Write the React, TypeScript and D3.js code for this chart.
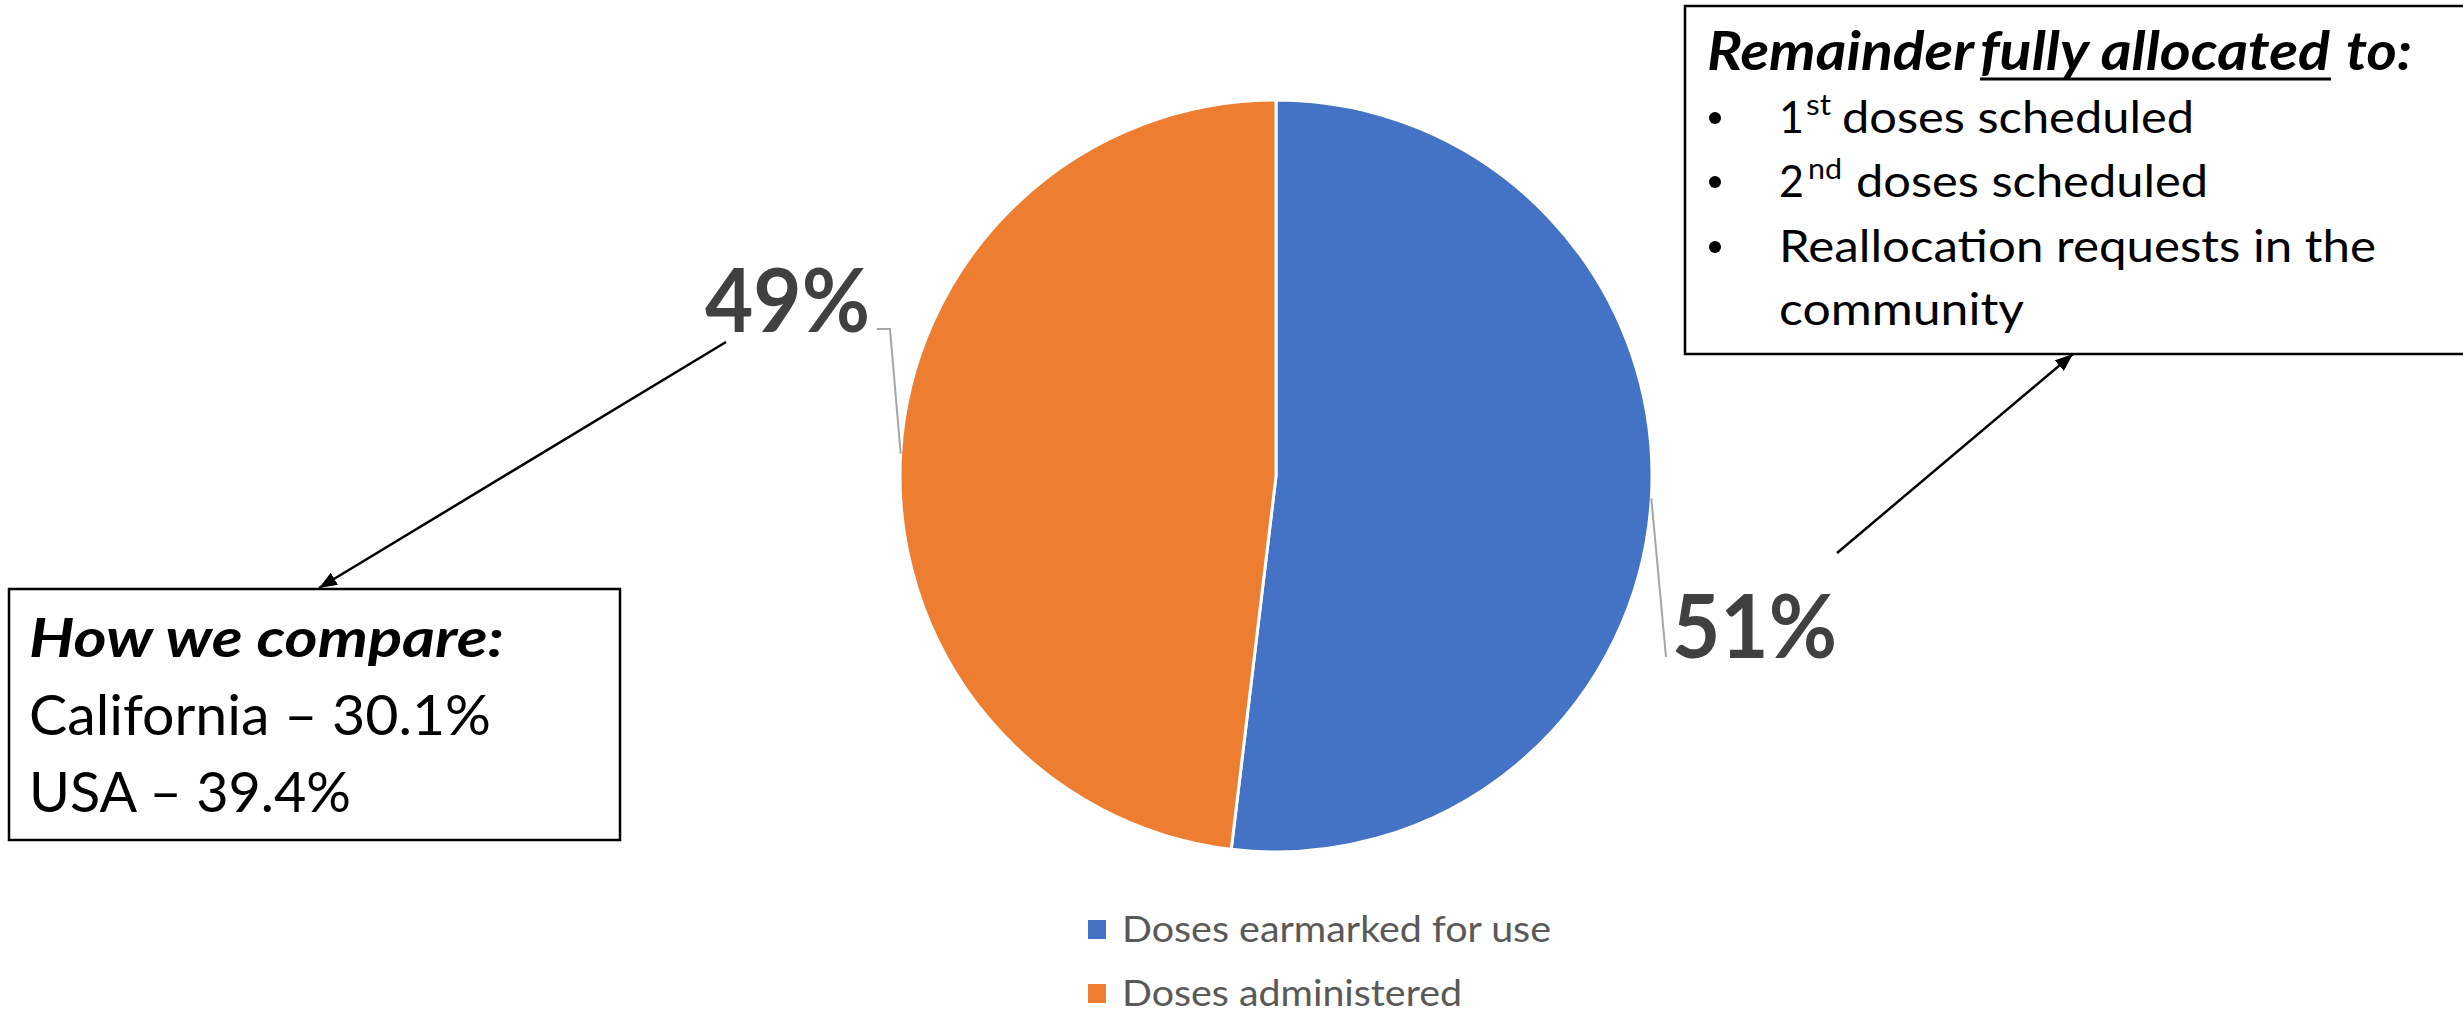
import React, { useEffect } from "react";
import * as d3 from "d3";

// ---------- data ----------
const categories = ["Doses earmarked for use", "Doses administered"];
const values = [51.9, 48.1];
const dataLabels = ["51%", "49%"];
const colors = ["#4472C4", "#ED7D31"];

const compareTitle = "How we compare:";
const compareLines = ["California – 30.1%", "USA – 39.4%"];

const remainderTitle = ["Remainder", "fully allocated", "to:"];
const remainderItems = [
  { main: "1", sup: "st", rest: "doses scheduled" },
  { main: "2", sup: "nd", rest: "doses scheduled" },
];
const remainderLast = ["Reallocation requests in the", "community"];

// ---------- layout ----------
const W = 2463;
const H = 1011;
const CX = 1276;
const CY = 476;
const R = 376;
const FONT = "Lato, 'Noto Sans', sans-serif";

const labelPos = [
  { x: 1672, y: 658, w: 165, lx: 1666, ly: 657, corner: null as null | number[] },
  { x: 705, y: 332, w: 165, lx: 877, ly: 329, corner: [890, 329] },
];

export default function App() {
  useEffect(() => {
    document.body.style.margin = "0";
  }, []);

  const pie = d3
    .pie<number>()
    .sort(null)
    .value((d) => d)
    .startAngle(0)
    .endAngle(2 * Math.PI);
  const arcs = pie(values);
  const arc = d3.arc<d3.PieArcDatum<number>>().innerRadius(0).outerRadius(R);

  const edgePoint = (a: d3.PieArcDatum<number>) => {
    const m = (a.startAngle + a.endAngle) / 2;
    return [CX + R * Math.sin(m), CY - R * Math.cos(m)];
  };

  const legendY = d3.scaleBand<string>().domain(categories).range([910, 1038]);

  return (
    <div style={{ position: "absolute", left: 0, top: 0 }}>
      <svg width={W} height={H} style={{ display: "block", background: "#fff" }} fontFamily={FONT}>
        <defs>
          <marker
            id="ah"
            markerUnits="userSpaceOnUse"
            markerWidth={20}
            markerHeight={14}
            refX={18}
            refY={7}
            orient="auto"
          >
            <path d="M0,0 L18,7 L0,14 Z" fill="#000" />
          </marker>
        </defs>
        <rect x={0} y={0} width={W} height={H} fill="#fff" />

        {/* pie */}
        <g transform={`translate(${CX},${CY})`}>
          {arcs.map((a, i) => (
            <path key={i} d={arc(a) || ""} fill={colors[i]} stroke="#fff" strokeWidth={3} strokeLinejoin="round" />
          ))}
        </g>

        {/* leader lines and data labels */}
        {arcs.map((a, i) => {
          const [ex, ey] = edgePoint(a);
          const lp = labelPos[i];
          const pts = lp.corner
            ? `${ex},${ey} ${lp.corner[0]},${lp.corner[1]} ${lp.lx},${lp.ly}`
            : `${ex},${ey} ${lp.lx},${lp.ly}`;
          return (
            <g key={i}>
              <polyline points={pts} fill="none" stroke="#A6A6A6" strokeWidth={2} />
              <text
                x={lp.x}
                y={lp.y}
                fontSize={88}
                fontWeight="bold"
                fill="#404040"
                textLength={lp.w}
                lengthAdjust="spacingAndGlyphs"
              >
                {dataLabels[i]}
              </text>
            </g>
          );
        })}

        {/* left annotation box */}
        <rect x={9} y={589} width={611} height={251} fill="#fff" stroke="#000" strokeWidth={2.5} />
        <text
          x={29}
          y={657}
          fontSize={54}
          fontWeight="bold"
          fontStyle="italic"
          fill="#000"
          textLength={475}
          lengthAdjust="spacingAndGlyphs"
        >
          {compareTitle}
        </text>
        {compareLines.map((t, i) => (
          <text
            key={i}
            x={29}
            y={735 + i * 77}
            fontSize={56}
            fill="#000"
            textLength={i === 0 ? 462 : 322}
            lengthAdjust="spacingAndGlyphs"
          >
            {t}
          </text>
        ))}

        {/* right annotation box */}
        <rect x={1685} y={6} width={780} height={348} fill="#fff" stroke="#000" strokeWidth={2.5} />
        {remainderTitle.map((t, i) => {
          const xs = [1707, 1980, 2346];
          const ws = [267, 350, 66];
          return (
            <text
              key={i}
              x={xs[i]}
              y={70}
              fontSize={53}
              fontWeight="bold"
              fontStyle="italic"
              fill="#000"
              textLength={ws[i]}
              lengthAdjust="spacingAndGlyphs"
            >
              {t}
            </text>
          );
        })}
        <line x1={1980} x2={2331} y1={79} y2={79} stroke="#000" strokeWidth={3} />

        {[133, 197, 262].map((y, i) => (
          <circle key={i} cx={1715} cy={y - 15} r={6} fill="#000" />
        ))}
        {remainderItems.map((it, i) => {
          const y = 133 + i * 64;
          const supX = i === 0 ? 1806 : 1808;
          const supW = i === 0 ? 25 : 34;
          const restX = i === 0 ? 1842 : 1856;
          return (
            <g key={i}>
              <text x={1779} y={y} fontSize={45} fill="#000" textLength={25} lengthAdjust="spacingAndGlyphs">
                {it.main}
              </text>
              <text x={supX} y={y - 18} fontSize={29} fill="#000" textLength={supW} lengthAdjust="spacingAndGlyphs">
                {it.sup}
              </text>
              <text x={restX} y={y} fontSize={45} fill="#000" textLength={352} lengthAdjust="spacingAndGlyphs">
                {it.rest}
              </text>
            </g>
          );
        })}
        {remainderLast.map((t, i) => (
          <text
            key={i}
            x={1779}
            y={262 + i * 63}
            fontSize={45}
            fill="#000"
            textLength={i === 0 ? 597 : 245}
            lengthAdjust="spacingAndGlyphs"
          >
            {t}
          </text>
        ))}

        {/* arrows */}
        <line x1={726} y1={342} x2={319} y2={588} stroke="#000" strokeWidth={2.5} markerEnd="url(#ah)" />
        <line x1={1837} y1={553} x2={2073} y2={354} stroke="#000" strokeWidth={2.5} markerEnd="url(#ah)" />

        {/* legend */}
        {categories.map((c, i) => {
          const y0 = legendY(c) || 0;
          return (
            <g key={c}>
              <rect x={1088} y={y0 + 10} width={18} height={19} fill={colors[i]} />
              <text
                x={1122}
                y={y0 + 32}
                fontSize={36}
                fill="#595959"
                textLength={i === 0 ? 429 : 340}
                lengthAdjust="spacingAndGlyphs"
              >
                {c}
              </text>
            </g>
          );
        })}
      </svg>
    </div>
  );
}
